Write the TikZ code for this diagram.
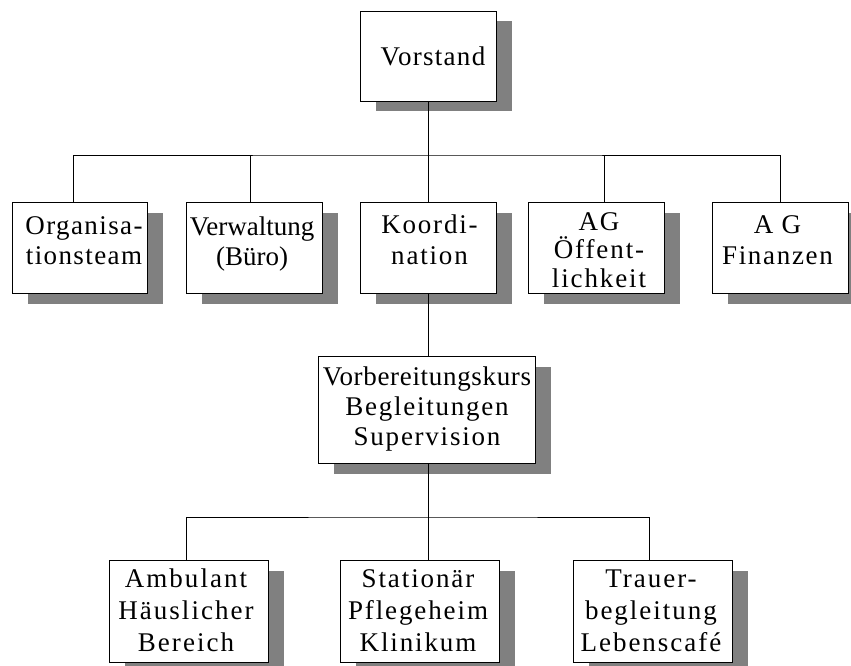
\documentclass[tikz,border=0pt]{standalone}
\usepackage{fontspec}
\setmainfont{Liberation Serif}
\usetikzlibrary{shadows}
\newcommand{\firstln}{\rule{0pt}{25pt}}
\tikzset{
  box/.style={draw=black, line width=0.8pt, fill=white, inner sep=0pt,
    drop shadow={shadow xshift=16pt, shadow yshift=-10.5pt, fill=black!50, opacity=1}},
  txt/.style={anchor=north, inner sep=0pt, align=center},
  fs/.style 2 args={font={\fontsize{27}{#1}\selectfont\addfontfeatures{LetterSpace=#2}}},
  conn/.style={draw=black, line width=0.8pt}
}
\begin{document}
\begin{tikzpicture}[x=1pt, y=-1pt]
\useasboundingbox[fill=white] (0,0) rectangle (851,666);
% boxes
\node[box, minimum width=136pt, minimum height=90pt] (vorstand) at (428,56) {};
\node[box, minimum width=135pt, minimum height=91pt] (org) at (79.5,247.5) {};
\node[box, minimum width=136pt, minimum height=91pt] (verw) at (254,247.5) {};
\node[box, minimum width=136pt, minimum height=91pt] (koord) at (428,247.5) {};
\node[box, minimum width=136pt, minimum height=91pt] (oeff) at (596,247.5) {};
\node[box, minimum width=136pt, minimum height=91pt] (fin) at (780,247.5) {};
\node[box, minimum width=217pt, minimum height=107pt] (vorb) at (426.5,409.5) {};
\node[box, minimum width=159pt, minimum height=102pt] (amb) at (188.5,611) {};
\node[box, minimum width=159pt, minimum height=102pt] (stat) at (419.5,611) {};
\node[box, minimum width=159pt, minimum height=102pt] (trau) at (652.5,611) {};
% texts
\node[txt, fs={30}{4.8}] (vorstandt) at (433,40) {\firstln Vorstand};
\node[txt, fs={30}{5.2}] (orgt) at (84,209) {\firstln Organisa-\\tionsteam};
\node[txt, fs={30}{0}] (verwt) at (252,210) {\firstln Verwaltung\\(Büro)};
\node[txt, fs={31}{6.7}] (koordt) at (429.5,208) {\firstln Koordi-\\nation};
\node[txt, fs={28.5}{7}] (oefft) at (599,205) {\firstln AG\\Öffent-\\lichkeit};
\node[txt, fs={31}{6.3}] (fint) at (777.5,208) {\firstln A G\\Finanzen};
\node[txt, fs={30}{6.5}] (vorbt) at (427,360) {\firstln{\addfontfeatures{LetterSpace=2.5}Vorbereitungskurs}\\Begleitungen\\Supervision};
\node[txt, fs={32}{7.6}] (ambt) at (186,562) {\firstln Ambulant\\Häuslicher\\Bereich};
\node[txt, fs={32}{7}] (statt) at (418,562) {\firstln Stationär\\Pflegeheim\\Klinikum};
\node[txt, fs={32}{7.4}] (traut) at (651,562) {\firstln Trauer-\\begleitung\\Lebenscafé};
% connectors
\coordinate (b1) at (428,155);
\coordinate (b2) at (428,517);
\draw[conn] (vorstand.south) -- (koord.north);
\draw[conn] ([xshift=-6.5pt]org.north) |- (b1) -| (fin.north);
\draw[conn] ([xshift=-4pt]verw.north) -- ([xshift=-4pt]verw.north |- b1);
\draw[conn] ([xshift=8pt]oeff.north) -- ([xshift=8pt]oeff.north |- b1);
\draw[conn] (koord.south) -- (koord.south |- vorb.north);
\draw[conn] (vorb.south -| b2) -- (b2);
\draw[conn] ([xshift=-2.5pt]amb.north) |- (b2) -| ([xshift=-3.5pt]trau.north);
\draw[conn] (b2) -- (stat.north -| b2);
\end{tikzpicture}
\end{document}
